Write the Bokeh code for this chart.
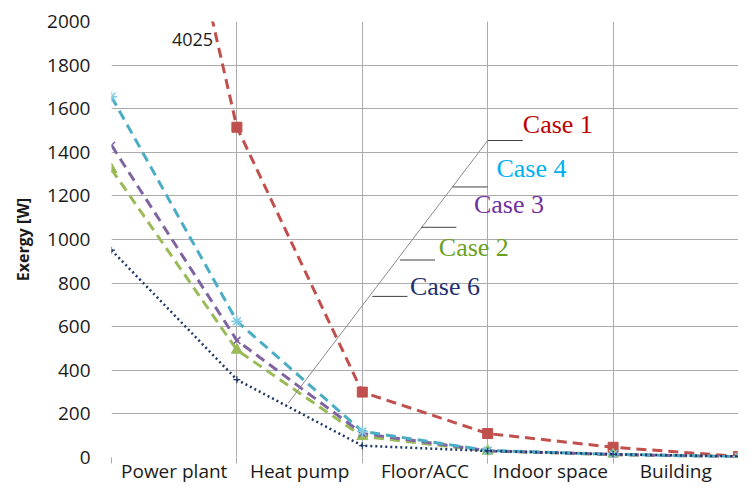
from bokeh.plotting import figure
from bokeh.models import FixedTicker, Range1d, ColumnDataSource
from bokeh.core.properties import value
from bokeh.embed import file_html
from bokeh.resources import INLINE

# ---- data ----
stages = ["Power plant", "Heat pump", "Floor/ACC", "Indoor space", "Building"]
x_points = [0, 1, 2, 3, 4, 5]
case1 = [4025, 1515, 300, 110, 47, 5]
case4 = [1655, 625, 120, 32, 15, 3]
case3 = [1432, 537, 110, 31, 14, 3]
case2 = [1322, 493, 97, 30, 13, 3]
case6 = [951, 357, 54, 30, 15, 5]
yticks = [0, 200, 400, 600, 800, 1000, 1200, 1400, 1600, 1800, 2000]

p = figure(width=738, height=486, output_backend="svg", toolbar_location=None,
           x_range=Range1d(0, 5), y_range=Range1d(0, 2000),
           min_border_left=111, min_border_right=0, min_border_top=21,
           min_border_bottom=5)
p.outline_line_color = None
p.background_fill_color = "white"
p.border_fill_color = "white"

# grids
p.xgrid.ticker = FixedTicker(ticks=x_points)
p.ygrid.ticker = FixedTicker(ticks=yticks)
p.xgrid.grid_line_color = "#ababab"
p.ygrid.grid_line_color = "#ababab"
p.xgrid.grid_line_width = 1
p.ygrid.grid_line_width = 1

# x axis: labels between gridlines, small ticks at category boundaries
label_pos = [i + 0.5 for i in range(len(stages))]
p.xaxis.ticker = FixedTicker(ticks=label_pos, minor_ticks=x_points)
p.xaxis.major_label_overrides = {pos: s for pos, s in zip(label_pos, stages)}
p.xaxis.major_tick_line_color = None
p.xaxis.major_tick_out = 0
p.xaxis.major_tick_in = 0
p.xaxis.minor_tick_line_color = "#ababab"
p.xaxis.minor_tick_out = 6
p.xaxis.minor_tick_in = 0
p.xaxis.axis_line_color = None
p.xaxis.major_label_standoff = -6
p.xaxis.major_label_text_font = "Open Sans"
p.xaxis.major_label_text_font_size = "19px"
p.xaxis.major_label_text_color = "#1a1a1a"

# y axis
p.yaxis.ticker = FixedTicker(ticks=yticks)
p.yaxis.major_tick_line_color = None
p.yaxis.major_tick_out = 0
p.yaxis.major_tick_in = 0
p.yaxis.minor_tick_line_color = None
p.yaxis.axis_line_color = None
p.yaxis.major_label_standoff = 21
p.yaxis.major_label_text_font = "Open Sans"
p.yaxis.major_label_text_font_size = "19px"
p.yaxis.major_label_text_color = "#1a1a1a"
p.yaxis.axis_label = "Exergy [W]"
p.yaxis.axis_label_text_font = "Open Sans"
p.yaxis.axis_label_text_font_style = "bold"
p.yaxis.axis_label_text_font_size = "16px"
p.yaxis.axis_label_text_color = "#1a1a1a"
p.yaxis.axis_label_standoff = 10

# series
p.line(x_points, case1, line_color="#c0504d", line_width=3, line_dash="10 6")
p.scatter(x_points, case1, marker="square", size=10, fill_color="#c0504d", line_color="#c0504d")

p.line(x_points, case2, line_color="#9bbb59", line_width=3, line_dash="10 6")
p.scatter(x_points, case2, marker="triangle", size=11, fill_color="#9bbb59", line_color="#9bbb59")

p.line(x_points, case3, line_color="#8064a2", line_width=3, line_dash="10 6")
p.scatter(x_points, case3, marker="x", size=10, line_color="#8064a2", line_width=1.5)

p.line(x_points, case4, line_color="#4bacc6", line_width=3, line_dash="10 6")
p.scatter(x_points, case4, marker="asterisk", size=11, line_color="#7fcbe0", line_width=1.5)

p.line(x_points, case6, line_color="#1f3864", line_width=2.5, line_dash="2 3")
p.scatter(x_points, case6, marker="cross", size=7, line_color="#1f3864", line_width=1.2)

# off-scale value label
p.text(x=[0.81], y=[1916], text=[str(case1[0])], text_align="right", text_baseline="middle",
       text_font=value("Open Sans"), text_font_size="18px", text_color="#1a1a1a")

# leader lines
p.line([1.41, 3.0], [250, 1454], line_color="#8a8a8a", line_width=1)
seg_x0 = [3.0, 2.72, 2.47, 2.30, 2.08]
seg_x1 = [3.28, 3.0, 2.75, 2.58, 2.36]
seg_y = [1454, 1241, 1056, 906, 739]
p.segment(x0=seg_x0, y0=seg_y, x1=seg_x1, y1=seg_y, line_color="#404040", line_width=1)

names = ["Case 1", "Case 4", "Case 3", "Case 2", "Case 6"]
name_colors = ["#c00000", "#00b0f0", "#7030a0", "#6aa121", "#1f3070"]
lab_x = [3.28, 3.07, 2.89, 2.61, 2.38]
lab_y = [1529, 1326, 1160, 962, 785]
src = ColumnDataSource(dict(x=lab_x, y=lab_y, t=names, c=name_colors))
p.text(x="x", y="y", text="t", text_color="c", source=src, text_align="left",
       text_baseline="middle", text_font=value("Liberation Serif"), text_font_size="26px")

open("out.html", "w").write(file_html(p, INLINE))
